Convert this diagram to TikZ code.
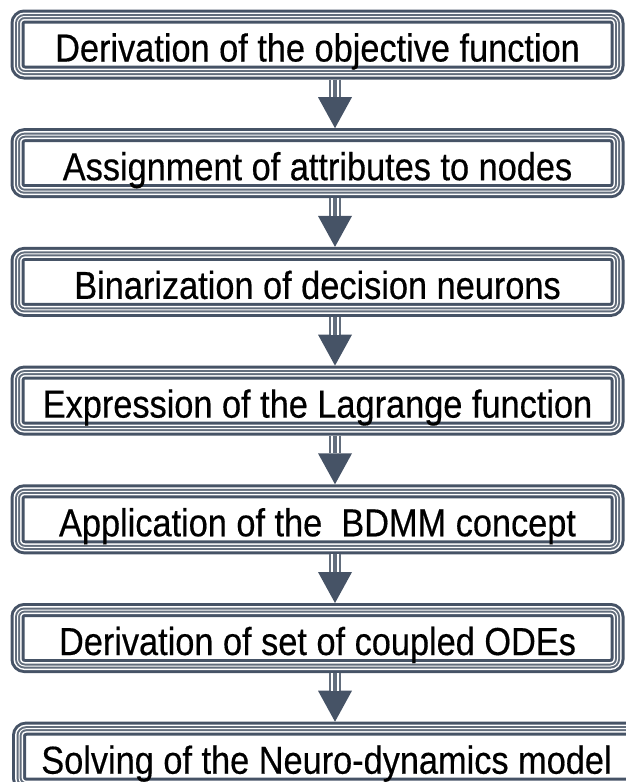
\documentclass[tikz,border=0pt]{standalone}
\usepackage{fontspec}
\setmainfont{Liberation Sans}[FakeStretch=0.88,FakeBold=0.4]
\usepackage{xcolor}
\usetikzlibrary{arrows.meta}

\definecolor{slate}{RGB}{70,83,102}
\definecolor{frameline}{RGB}{98,109,124}

\begin{document}
\begin{tikzpicture}[x=1pt,y=1pt]
				\tikzstyle{common} = [rectangle, rounded corners=7pt, text badly centered, inner sep=0pt, node distance=118.7pt, font=\fontsize{39}{44}\selectfont, text height=34pt, text depth=0pt]
				\tikzstyle{block} = [common, minimum width=600pt, minimum height=56pt, draw=slate, line width=14pt, fill=white, postaction={draw=white, line width=8pt}, postaction={draw=frameline, line width=5pt}, postaction={draw=white, line width=1pt}]
				\tikzstyle{blockwide} = [block, minimum width=615pt]
				\tikzstyle{line} = [draw=frameline, line width=12pt, -{Triangle[width=34pt,length=31pt,line width=0pt,color=slate]}, postaction={draw=white, line width=8pt, -, shorten >=31pt}, postaction={draw=frameline, line width=3.5pt, -, shorten >=31pt}]
				\useasboundingbox (0,0) rectangle (625,-782);
				\node[block] (objective) at (317.5,-44.5) {Derivation of the objective function};
				\node[block, below of=objective] (attributes) {Assignment of attributes to nodes};
				\node[block, below of=attributes] (binarization) {Binarization of decision neurons};
				\node[block, below of=binarization] (lagrange) {Expression of the Lagrange function};
				\node[block, below of=lagrange] (bdmm) {Application of the\ \ BDMM concept};
				\node[block, below of=bdmm] (odes) {Derivation of set of coupled ODEs};
				\node[blockwide, below of=odes, xshift=9pt] (solving) {Solving of the Neuro-dynamics model};

				\draw[line] ([xshift=17.5pt]objective.south) -- ([xshift=17.5pt]attributes.north);
				\draw[line] ([xshift=17.5pt]attributes.south) -- ([xshift=17.5pt]binarization.north);
				\draw[line] ([xshift=17.5pt]binarization.south) -- ([xshift=17.5pt]lagrange.north);
				\draw[line] ([xshift=17.5pt]lagrange.south) -- ([xshift=17.5pt]bdmm.north);
				\draw[line] ([xshift=17.5pt]bdmm.south) -- ([xshift=17.5pt]odes.north);
				\draw[line] ([xshift=17.5pt]odes.south) -- ([xshift=8.5pt]solving.north);
			\end{tikzpicture}
\end{document}
